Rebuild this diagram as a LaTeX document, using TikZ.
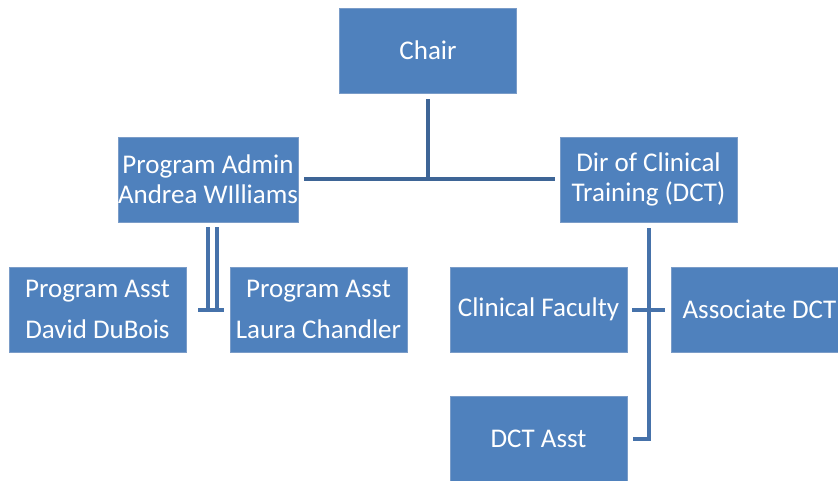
\documentclass[tikz,border=0pt]{standalone}
\usepackage{fontspec}
\setmainfont{Carlito}

\definecolor{boxblue}{HTML}{4F81BD}
\definecolor{boxedge}{HTML}{7A9CC8}
\definecolor{linkblue}{HTML}{4672AA}
\definecolor{linkdark}{HTML}{3E6596}

\tikzset{
  unit/.style={fill=boxblue, draw=boxedge, line width=0.8pt, text=white,
    minimum width=177pt, minimum height=85pt, inner sep=0pt, align=center,
    font=\fontsize{27}{30}\selectfont},
  wideunit/.style={unit, font=\fontsize{27}{41}\selectfont},
  link/.style={draw=linkblue, line width=4pt},
}

\begin{document}
\begin{tikzpicture}[x=1pt, y=-1pt]
    \useasboundingbox (0,0) rectangle (838,481);
    % boxes
    \node[unit] (chair) at (428, 50.5) {Chair};
    \node[unit] (admin) at (208,179.5) {Program Admin\\Andrea WIlliams};
    \node[unit] (dct) at (648.5,179.5) {Dir of Clinical\\Training (DCT)};
    \node[wideunit] (asstdavid) at (97.5,309.5) {Program Asst\\David DuBois};
    \node[wideunit] (asstlaura) at (318.5,309.5) {Program Asst\\Laura Chandler};
    \node[unit] (faculty) at (538.5,309.5) {Clinical Faculty};
    \node[unit] (assocdct) at (759.5,309.5) {Associate DCT};
    \node[unit] (dctasst) at (538.5,439) {DCT Asst};
    % chair to the two heads
    \coordinate (fork) at (chair.south |- admin.east);
    \draw[link, draw=linkdark] ([yshift=-6pt]chair.south) -- (fork);
    \draw[link, draw=linkdark] ([xshift=6pt]admin.east) -- ([xshift=-5pt]dct.west);
    % admin to the assistants
    \coordinate (adminbar) at (admin.south |- asstdavid.east);
    \draw[link] ([yshift=-5pt]admin.south) -- (adminbar);
    \draw[link] ([xshift=9pt, yshift=-5pt]admin.south) -- ([xshift=9pt]adminbar);
    \draw[link] ([xshift=-10pt]adminbar) -- ([xshift=16pt]adminbar);
    % dct to faculty, associate and asst
    \coordinate (dctend) at (dct.south |- dctasst.east);
    \draw[link] ([yshift=-6pt]dct.south) -- (dctend) -- ([xshift=6pt]dctasst.east);
    \draw[link] ([xshift=5pt]faculty.east) -- ([xshift=-6pt]assocdct.west);
\end{tikzpicture}
\end{document}
